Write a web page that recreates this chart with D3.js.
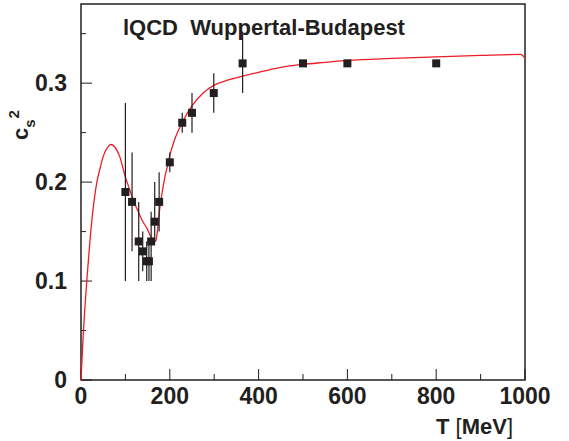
<!DOCTYPE html>
<html>
<head>
<meta charset="utf-8">
<script src="https://cdn.jsdelivr.net/npm/d3@7/dist/d3.min.js"></script>
<style>
  body { margin: 0; background: #fff; }
  svg { display: block; }
  text { font-family: "Liberation Sans", Arial, sans-serif; font-weight: bold; fill: #231f20; }
</style>
</head>
<body>
<svg width="569" height="441"></svg>
<script>
// lattice points (T in MeV, c_s^2 and error bar ends)
var latT   = [100, 115, 130, 139, 148, 153, 158, 166, 176, 200, 228, 250, 299, 364, 500, 600, 800];
var latCs2 = [0.19, 0.18, 0.14, 0.13, 0.12, 0.12, 0.14, 0.16, 0.18, 0.22, 0.26, 0.27, 0.29, 0.32, 0.32, 0.32, 0.32];
var latLo  = [0.10, 0.13, 0.10, 0.11, 0.10, 0.10, 0.10, 0.14, 0.15, 0.21, 0.25, 0.25, 0.27, 0.29, 0.32, 0.32, 0.32];
var latHi  = [0.28, 0.23, 0.18, 0.15, 0.14, 0.14, 0.17, 0.20, 0.21, 0.23, 0.27, 0.29, 0.31, 0.35, 0.32, 0.32, 0.32];

// red model curve
var curveT   = [0, 5, 13, 20, 27, 35, 43, 50, 60, 67, 75, 87, 100, 110, 117, 127, 137, 150, 157, 163, 168, 172, 177, 183, 188, 195, 200, 211, 230, 250, 275, 300, 330, 364, 400, 450, 500, 550, 600, 700, 800, 900, 990, 1000];
var curveCs2 = [0, 0.045, 0.10, 0.14, 0.172, 0.198, 0.214, 0.226, 0.235, 0.238, 0.236, 0.226, 0.205, 0.192, 0.183, 0.172, 0.162, 0.152, 0.145, 0.142, 0.140, 0.150, 0.172, 0.190, 0.203, 0.217, 0.227, 0.243, 0.262, 0.277, 0.290, 0.298, 0.303, 0.307, 0.311, 0.316, 0.319, 0.321, 0.323, 0.325, 0.3265, 0.328, 0.329, 0.325];

var xMajor = [0, 200, 400, 600, 800, 1000];
var xMinor = [100, 300, 500, 700, 900];
var yMajor = [0, 0.1, 0.2, 0.3];
var yMinor = [0.05, 0.15, 0.25, 0.35];

var svg = d3.select("svg");
var x = d3.scaleLinear().domain([0, 1000]).range([81, 525]);
var y = d3.scaleLinear().domain([0, 0.38]).range([380, 4]);

// frame
svg.append("rect")
  .attr("x", 81).attr("y", 4)
  .attr("width", 444).attr("height", 376)
  .attr("fill", "none").attr("stroke", "#231f20").attr("stroke-width", 1.5);

// ticks
svg.selectAll(".xt").data(xMajor.concat(xMinor)).enter().append("line")
  .attr("x1", d => x(d)).attr("x2", d => x(d))
  .attr("y1", 380).attr("y2", d => xMajor.indexOf(d) >= 0 ? 369 : 374)
  .attr("stroke", "#231f20").attr("stroke-width", 1);
svg.selectAll(".yt").data(yMajor.concat(yMinor)).enter().append("line")
  .attr("y1", d => y(d)).attr("y2", d => y(d))
  .attr("x1", 81).attr("x2", d => yMajor.indexOf(d) >= 0 ? 92 : 86)
  .attr("stroke", "#231f20").attr("stroke-width", 1);

svg.selectAll(".xl").data(xMajor).enter().append("text")
  .attr("x", d => x(d)).attr("y", 404)
  .attr("text-anchor", "middle").attr("font-size", 23)
  .text(d => d);
svg.selectAll(".yl").data(yMajor).enter().append("text")
  .attr("x", 67).attr("y", d => y(d) + 8)
  .attr("text-anchor", "end").attr("font-size", 23)
  .text(d => d === 0 ? "0" : d3.format(".1f")(d));

// axis titles
var xt = svg.append("text").attr("x", 513).attr("y", 434)
  .attr("text-anchor", "end").attr("font-size", 22);
xt.append("tspan").text("T ");
xt.append("tspan").attr("font-weight", "normal").text("[");
xt.append("tspan").text("MeV");
xt.append("tspan").attr("font-weight", "normal").text("]");

var yt = svg.append("text").attr("transform", "translate(28,140) rotate(-90)")
  .attr("font-size", 22);
yt.append("tspan").text("c");
yt.append("tspan").attr("font-size", 15).attr("dy", 7).text("s");
yt.append("tspan").attr("font-size", 15).attr("dx", 1).attr("dy", -16).text("2");

// title
svg.append("text").attr("x", 123).attr("y", 35)
  .attr("font-size", 22).text("lQCD  Wuppertal-Budapest")
  .attr("xml:space", "preserve").style("white-space", "pre");

// curve
var line = d3.line().x(d => x(d[0])).y(d => y(d[1])).curve(d3.curveMonotoneX);
svg.append("path")
  .datum(curveT.map((t, i) => [t, curveCs2[i]]))
  .attr("d", line)
  .attr("fill", "none").attr("stroke", "#ee1c25").attr("stroke-width", 1.3);

// error bars and markers
var pts = latT.map((t, i) => ({t: t, v: latCs2[i], lo: latLo[i], hi: latHi[i]}));
svg.selectAll(".err").data(pts).enter().append("line")
  .attr("x1", d => x(d.t)).attr("x2", d => x(d.t))
  .attr("y1", d => y(d.lo)).attr("y2", d => y(d.hi))
  .attr("stroke", "#231f20").attr("stroke-width", 1.2);
svg.selectAll(".pt").data(pts).enter().append("rect")
  .attr("x", d => x(d.t) - 4).attr("y", d => y(d.v) - 4)
  .attr("width", 8).attr("height", 8)
  .attr("fill", "#231f20");
</script>
</body>
</html>
